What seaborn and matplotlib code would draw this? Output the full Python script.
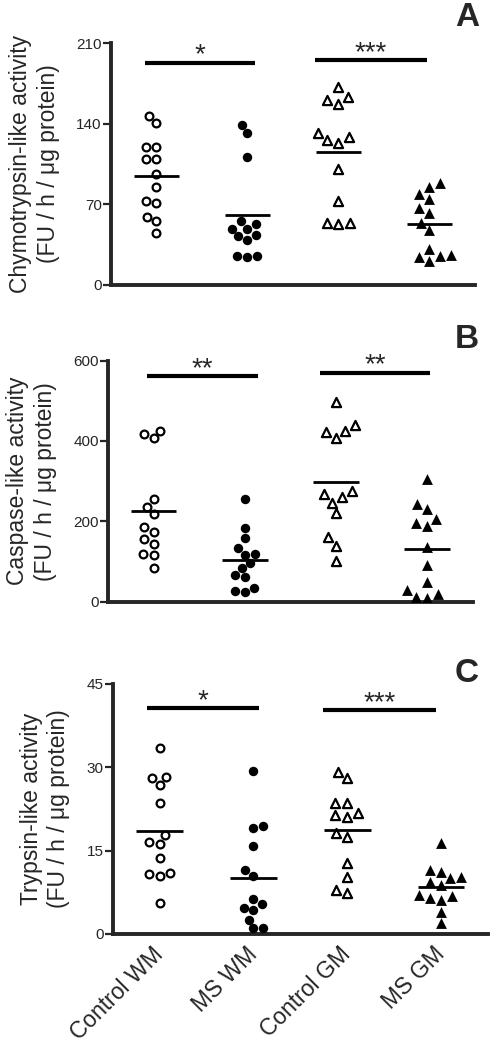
"""
Proteasome activity in MS and control white/grey matter.

Three stacked dot plots (chymotrypsin-, caspase- and trypsin-like activity)
with group means and significance bars.
"""

import numpy as np
import pandas as pd
import matplotlib
matplotlib.use("Agg")
import matplotlib.pyplot as plt
import seaborn as sns

sns.set_style("ticks")
plt.rcParams['font.family'] = ['Liberation Sans', 'DejaVu Sans']

groups = ['Control WM', 'MS WM', 'Control GM', 'MS GM']

# Panel A - chymotrypsin-like activity
chymo_ctrl_wm = [146.9, 141.1, 120.2, 119.6, 109.8, 109.8, 96.5, 84.9, 73.3, 71.6, 59.4, 55.3, 45.5]
chymo_ms_wm = [138.8, 131.8, 111.5, 55.3, 53.0, 49.0, 49.0, 43.2, 42.6, 39.1, 25.2, 25.2, 24.6]
chymo_ctrl_gm = [171.8, 163.1, 160.8, 157.3, 132.4, 128.3, 126.0, 123.7, 100.5, 73.3, 54.2, 54.2, 53.0]
chymo_ms_gm = [88.4, 85.5, 79.1, 74.5, 66.9, 62.3, 54.2, 47.8, 31.6, 26.4, 25.2, 24.6, 21.1]

# Panel B - caspase-like activity
casp_ctrl_wm = [425.7, 417.4, 406.7, 255.6, 236.5, 217.4, 186.7, 174.3, 155.2, 143.6, 118.7, 116.2, 84.6]
casp_ms_wm = [254.8, 183.4, 159.3, 132.8, 117.8, 116.2, 95.4, 83.0, 65.6, 60.6, 34.9, 26.6, 24.9]
casp_ctrl_gm = [498.0, 439.8, 425.7, 423.2, 406.7, 276.4, 267.2, 261.4, 246.5, 219.9, 160.2, 138.6, 102.1]
casp_ms_gm = [304.6, 243.2, 229.9, 205.0, 195.0, 188.4, 135.3, 91.3, 49.8, 29.0, 19.1, 12.4, 8.3]

# Panel C - trypsin-like activity
tryp_ctrl_wm = [33.5, 28.2, 28.0, 26.8, 23.5, 17.8, 16.6, 16.2, 13.7, 10.9, 10.8, 10.5, 5.5]
tryp_ms_wm = [29.4, 19.5, 19.0, 15.8, 11.5, 10.5, 6.3, 5.4, 4.6, 4.4, 2.5, 1.1, 1.0]
tryp_ctrl_gm = [29.2, 28.0, 23.6, 23.5, 21.8, 21.4, 21.1, 18.1, 17.5, 12.7, 10.3, 8.0, 7.3]
tryp_ms_gm = [16.3, 11.6, 11.2, 10.3, 10.0, 9.4, 8.8, 7.0, 6.8, 6.4, 6.2, 4.0, 2.0]

# significance: (stars, bar height, bar span in category units)
sig_a = [('*', 193.2, (-0.13, 1.08)), ('***', 195.6, (1.74, 2.97))]
sig_b = [('**', 561.8, (-0.07, 1.14)), ('**', 570.1, (1.82, 3.03))]
sig_c = [('*', 40.7, (-0.14, 1.06)), ('***', 40.3, (1.74, 2.95))]

# marker style per group: (marker, face, size)
styles = {
    'Control WM': ('o', 'white', 5.6),
    'MS WM': ('o', 'black', 6.8),
    'Control GM': ('^', 'white', 6.6),
    'MS GM': ('^', 'black', 7.8),
}


def to_long(series):
    rows = []
    for g, vals in zip(groups, series):
        rows += [(g, v) for v in vals]
    return pd.DataFrame(rows, columns=['group', 'value'])


def draw_panel(ax, df, ymax, yticks, ylabel, sig, show_xlabels=False):
    for g in groups:
        marker, face, size = styles[g]
        sub = df[df['group'] == g]
        sns.swarmplot(data=sub, x='group', y='value', order=groups, ax=ax,
                      marker=marker, color=face, edgecolor='black',
                      linewidth=1.6 if face == 'white' else 0, size=size,
                      zorder=3)

    # group means
    means = df.groupby('group')['value'].mean()
    for i, g in enumerate(groups):
        ax.hlines(means[g], i - 0.25, i + 0.25, color='black', lw=2, zorder=4)

    # significance bars
    for stars, y, (x0, x1) in sig:
        ax.plot([x0, x1], [y, y], color='black', lw=3, solid_capstyle='butt')
        ax.text((x0 + x1) / 2, y, stars, ha='center', va='baseline', fontsize=20)

    ax.set_xlim(-0.5, 3.5)
    ax.set_ylim(0, ymax)
    ax.set_yticks(yticks)
    ax.set_ylabel(ylabel, fontsize=16.5, labelpad=12, linespacing=1.25)
    ax.set_xlabel('')
    sns.despine(ax=ax)
    for side in ['left', 'bottom']:
        ax.spines[side].set_linewidth(2.8)
    ax.tick_params(axis='y', length=5.5, width=1.6, labelsize=11, pad=1)
    ax.tick_params(axis='x', length=0, labelsize=16.5, pad=12)
    if show_xlabels:
        plt.setp(ax.get_xticklabels(), rotation=45, ha='right', va='center',
                 rotation_mode='anchor')
    else:
        ax.set_xticklabels([])


def main():
    fig = plt.figure(figsize=(4.95, 10.5), dpi=100)

    ax_a = fig.add_axes([0.224, 0.7286, 0.7354, 0.2302])
    ax_b = fig.add_axes([0.218, 0.4270, 0.7374, 0.2295])
    ax_c = fig.add_axes([0.228, 0.1105, 0.7576, 0.2381])

    df_a = to_long([chymo_ctrl_wm, chymo_ms_wm, chymo_ctrl_gm, chymo_ms_gm])
    df_b = to_long([casp_ctrl_wm, casp_ms_wm, casp_ctrl_gm, casp_ms_gm])
    df_c = to_long([tryp_ctrl_wm, tryp_ms_wm, tryp_ctrl_gm, tryp_ms_gm])

    draw_panel(ax_a, df_a, 210, [0, 70, 140, 210],
               'Chymotrypsin-like activity\n(FU / h / \u03bcg protein)', sig_a)
    draw_panel(ax_b, df_b, 600, [0, 200, 400, 600],
               'Caspase-like activity\n(FU / h / \u03bcg protein)', sig_b)
    draw_panel(ax_c, df_c, 45, [0, 15, 30, 45],
               'Trypsin-like activity\n(FU / h / \u03bcg protein)', sig_c,
               show_xlabels=True)
    fig.align_ylabels([ax_a, ax_b, ax_c])

    # panel letters
    for letter, y in [('A', 0.9838), ('B', 0.6762), ('C', 0.3581)]:
        fig.text(0.943, y, letter, ha='center', va='center',
                 fontsize=24, fontweight='bold')

    fig.savefig('out.png', dpi=100)
    plt.close(fig)


if __name__ == "__main__":
    main()
